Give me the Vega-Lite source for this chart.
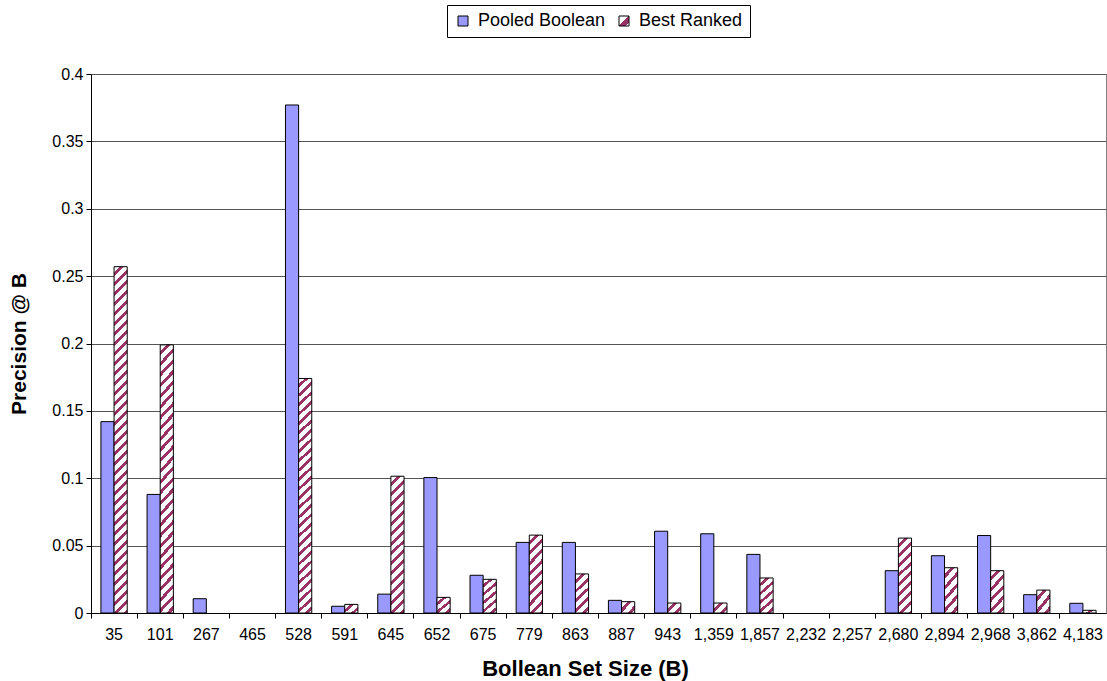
{
  "$schema": "https://vega.github.io/schema/vega-lite/v6.json",
  "width": 1015,
  "height": 539,
  "autosize": "none",
  "padding": {"left": 91, "top": 74, "right": 1, "bottom": 68},
  "background": "white",
  "config": {"font": "Liberation Sans", "view": {"stroke": "#808080"}},
  "data": {
    "values": [
      {"size": "35", "series": "Pooled Boolean", "value": 0.142},
      {"size": "35", "series": "Best Ranked", "value": 0.257},
      {"size": "101", "series": "Pooled Boolean", "value": 0.088},
      {"size": "101", "series": "Best Ranked", "value": 0.199},
      {"size": "267", "series": "Pooled Boolean", "value": 0.0106},
      {"size": "267", "series": "Best Ranked", "value": 0},
      {"size": "465", "series": "Pooled Boolean", "value": 0},
      {"size": "465", "series": "Best Ranked", "value": 0},
      {"size": "528", "series": "Pooled Boolean", "value": 0.377},
      {"size": "528", "series": "Best Ranked", "value": 0.174},
      {"size": "591", "series": "Pooled Boolean", "value": 0.005},
      {"size": "591", "series": "Best Ranked", "value": 0.0064},
      {"size": "645", "series": "Pooled Boolean", "value": 0.014},
      {"size": "645", "series": "Best Ranked", "value": 0.1015},
      {"size": "652", "series": "Pooled Boolean", "value": 0.1005},
      {"size": "652", "series": "Best Ranked", "value": 0.0116},
      {"size": "675", "series": "Pooled Boolean", "value": 0.028},
      {"size": "675", "series": "Best Ranked", "value": 0.025},
      {"size": "779", "series": "Pooled Boolean", "value": 0.0524},
      {"size": "779", "series": "Best Ranked", "value": 0.0578},
      {"size": "863", "series": "Pooled Boolean", "value": 0.0524},
      {"size": "863", "series": "Best Ranked", "value": 0.029},
      {"size": "887", "series": "Pooled Boolean", "value": 0.0094},
      {"size": "887", "series": "Best Ranked", "value": 0.0084},
      {"size": "943", "series": "Pooled Boolean", "value": 0.0607},
      {"size": "943", "series": "Best Ranked", "value": 0.0074},
      {"size": "1,359", "series": "Pooled Boolean", "value": 0.0588},
      {"size": "1,359", "series": "Best Ranked", "value": 0.0074},
      {"size": "1,857", "series": "Pooled Boolean", "value": 0.0435},
      {"size": "1,857", "series": "Best Ranked", "value": 0.026},
      {"size": "2,232", "series": "Pooled Boolean", "value": 0},
      {"size": "2,232", "series": "Best Ranked", "value": 0},
      {"size": "2,257", "series": "Pooled Boolean", "value": 0},
      {"size": "2,257", "series": "Best Ranked", "value": 0},
      {"size": "2,680", "series": "Pooled Boolean", "value": 0.0314},
      {"size": "2,680", "series": "Best Ranked", "value": 0.0556},
      {"size": "2,894", "series": "Pooled Boolean", "value": 0.0425},
      {"size": "2,894", "series": "Best Ranked", "value": 0.0336},
      {"size": "2,968", "series": "Pooled Boolean", "value": 0.0575},
      {"size": "2,968", "series": "Best Ranked", "value": 0.0314},
      {"size": "3,862", "series": "Pooled Boolean", "value": 0.0136},
      {"size": "3,862", "series": "Best Ranked", "value": 0.017},
      {"size": "4,183", "series": "Pooled Boolean", "value": 0.0072},
      {"size": "4,183", "series": "Best Ranked", "value": 0.002}
    ]
  },
  "encoding": {
    "y": {
      "field": "value",
      "type": "quantitative",
      "scale": {"domain": [0, 0.4], "nice": false, "zero": true},
      "axis": {
        "title": "Precision @ B",
        "values": [0, 0.05, 0.1, 0.15, 0.2, 0.25, 0.3, 0.35, 0.4],
        "format": "~g",
        "labelFontSize": 16,
        "labelColor": "black",
        "labelPadding": 3,
        "tickColor": "black",
        "tickSize": 5,
        "domainColor": "black",
        "grid": true,
        "gridColor": "#555555",
        "titleFontSize": 21,
        "titleFontWeight": "bold",
        "titleColor": "black",
        "titlePadding": 22
      }
    },
    "xOffset": {
      "field": "series",
      "type": "nominal",
      "scale": {"domain": ["Pooled Boolean", "Best Ranked"], "paddingInner": 0, "paddingOuter": 0}
    },
    "strokeOpacity": {"condition": {"test": "datum.value === 0", "value": 0}, "value": 1},
    "fill": {
      "field": "series",
      "type": "nominal",
      "scale": {
        "domain": ["Pooled Boolean", "Best Ranked"],
        "range": ["#9999ff", {"expr": "{gradient: 'linear', x1: 0, y1: 0, x2: 1, y2: 1, stops: [{offset: 0, color: '#fff'}, {offset: 0.45, color: '#fff'}, {offset: 0.45, color: '#936'}, {offset: 0.8, color: '#936'}, {offset: 0.8, color: '#fff'}, {offset: 1, color: '#fff'}]}"}]
      },
      "legend": {
        "orient": "none",
        "legendX": 356,
        "legendY": -69,
        "direction": "horizontal",
        "title": null,
        "symbolType": "square",
        "symbolSize": 100,
        "symbolStrokeColor": "black",
        "symbolStrokeWidth": 1,
        "labelFontSize": 18,
        "labelColor": "black",
        "labelOffset": 6,
        "columnPadding": 9,
        "padding": 7,
        "strokeColor": "black",
        "fillColor": "white"
      },
      "condition": [
        {"test": "datum.series === 'Best Ranked' && datum.value >= 0.22", "value": {"gradient": "linear", "x1": 0, "y1": 0, "x2": 0.04362, "y2": 1.1511, "stops": [
          {"offset": 0, "color": "#fff"}, {"offset": 0.015, "color": "#fff"}, {"offset": 0.015, "color": "#936"}, {"offset": 0.025, "color": "#936"},
          {"offset": 0.025, "color": "#fff"}, {"offset": 0.04, "color": "#fff"}, {"offset": 0.04, "color": "#936"}, {"offset": 0.05, "color": "#936"},
          {"offset": 0.05, "color": "#fff"}, {"offset": 0.065, "color": "#fff"}, {"offset": 0.065, "color": "#936"}, {"offset": 0.075, "color": "#936"},
          {"offset": 0.075, "color": "#fff"}, {"offset": 0.09, "color": "#fff"}, {"offset": 0.09, "color": "#936"}, {"offset": 0.1, "color": "#936"},
          {"offset": 0.1, "color": "#fff"}, {"offset": 0.115, "color": "#fff"}, {"offset": 0.115, "color": "#936"}, {"offset": 0.125, "color": "#936"},
          {"offset": 0.125, "color": "#fff"}, {"offset": 0.14, "color": "#fff"}, {"offset": 0.14, "color": "#936"}, {"offset": 0.15, "color": "#936"},
          {"offset": 0.15, "color": "#fff"}, {"offset": 0.165, "color": "#fff"}, {"offset": 0.165, "color": "#936"}, {"offset": 0.175, "color": "#936"},
          {"offset": 0.175, "color": "#fff"}, {"offset": 0.19, "color": "#fff"}, {"offset": 0.19, "color": "#936"}, {"offset": 0.2, "color": "#936"},
          {"offset": 0.2, "color": "#fff"}, {"offset": 0.215, "color": "#fff"}, {"offset": 0.215, "color": "#936"}, {"offset": 0.225, "color": "#936"},
          {"offset": 0.225, "color": "#fff"}, {"offset": 0.24, "color": "#fff"}, {"offset": 0.24, "color": "#936"}, {"offset": 0.25, "color": "#936"},
          {"offset": 0.25, "color": "#fff"}, {"offset": 0.265, "color": "#fff"}, {"offset": 0.265, "color": "#936"}, {"offset": 0.275, "color": "#936"},
          {"offset": 0.275, "color": "#fff"}, {"offset": 0.29, "color": "#fff"}, {"offset": 0.29, "color": "#936"}, {"offset": 0.3, "color": "#936"},
          {"offset": 0.3, "color": "#fff"}, {"offset": 0.315, "color": "#fff"}, {"offset": 0.315, "color": "#936"}, {"offset": 0.325, "color": "#936"},
          {"offset": 0.325, "color": "#fff"}, {"offset": 0.34, "color": "#fff"}, {"offset": 0.34, "color": "#936"}, {"offset": 0.35, "color": "#936"},
          {"offset": 0.35, "color": "#fff"}, {"offset": 0.365, "color": "#fff"}, {"offset": 0.365, "color": "#936"}, {"offset": 0.375, "color": "#936"},
          {"offset": 0.375, "color": "#fff"}, {"offset": 0.39, "color": "#fff"}, {"offset": 0.39, "color": "#936"}, {"offset": 0.4, "color": "#936"},
          {"offset": 0.4, "color": "#fff"}, {"offset": 0.415, "color": "#fff"}, {"offset": 0.415, "color": "#936"}, {"offset": 0.425, "color": "#936"},
          {"offset": 0.425, "color": "#fff"}, {"offset": 0.44, "color": "#fff"}, {"offset": 0.44, "color": "#936"}, {"offset": 0.45, "color": "#936"},
          {"offset": 0.45, "color": "#fff"}, {"offset": 0.465, "color": "#fff"}, {"offset": 0.465, "color": "#936"}, {"offset": 0.475, "color": "#936"},
          {"offset": 0.475, "color": "#fff"}, {"offset": 0.49, "color": "#fff"}, {"offset": 0.49, "color": "#936"}, {"offset": 0.5, "color": "#936"},
          {"offset": 0.5, "color": "#fff"}, {"offset": 0.515, "color": "#fff"}, {"offset": 0.515, "color": "#936"}, {"offset": 0.525, "color": "#936"},
          {"offset": 0.525, "color": "#fff"}, {"offset": 0.54, "color": "#fff"}, {"offset": 0.54, "color": "#936"}, {"offset": 0.55, "color": "#936"},
          {"offset": 0.55, "color": "#fff"}, {"offset": 0.565, "color": "#fff"}, {"offset": 0.565, "color": "#936"}, {"offset": 0.575, "color": "#936"},
          {"offset": 0.575, "color": "#fff"}, {"offset": 0.59, "color": "#fff"}, {"offset": 0.59, "color": "#936"}, {"offset": 0.6, "color": "#936"},
          {"offset": 0.6, "color": "#fff"}, {"offset": 0.615, "color": "#fff"}, {"offset": 0.615, "color": "#936"}, {"offset": 0.625, "color": "#936"},
          {"offset": 0.625, "color": "#fff"}, {"offset": 0.64, "color": "#fff"}, {"offset": 0.64, "color": "#936"}, {"offset": 0.65, "color": "#936"},
          {"offset": 0.65, "color": "#fff"}, {"offset": 0.665, "color": "#fff"}, {"offset": 0.665, "color": "#936"}, {"offset": 0.675, "color": "#936"},
          {"offset": 0.675, "color": "#fff"}, {"offset": 0.69, "color": "#fff"}, {"offset": 0.69, "color": "#936"}, {"offset": 0.7, "color": "#936"},
          {"offset": 0.7, "color": "#fff"}, {"offset": 0.715, "color": "#fff"}, {"offset": 0.715, "color": "#936"}, {"offset": 0.725, "color": "#936"},
          {"offset": 0.725, "color": "#fff"}, {"offset": 0.74, "color": "#fff"}, {"offset": 0.74, "color": "#936"}, {"offset": 0.75, "color": "#936"},
          {"offset": 0.75, "color": "#fff"}, {"offset": 0.765, "color": "#fff"}, {"offset": 0.765, "color": "#936"}, {"offset": 0.775, "color": "#936"},
          {"offset": 0.775, "color": "#fff"}, {"offset": 0.79, "color": "#fff"}, {"offset": 0.79, "color": "#936"}, {"offset": 0.8, "color": "#936"},
          {"offset": 0.8, "color": "#fff"}, {"offset": 0.815, "color": "#fff"}, {"offset": 0.815, "color": "#936"}, {"offset": 0.825, "color": "#936"},
          {"offset": 0.825, "color": "#fff"}, {"offset": 0.84, "color": "#fff"}, {"offset": 0.84, "color": "#936"}, {"offset": 0.85, "color": "#936"},
          {"offset": 0.85, "color": "#fff"}, {"offset": 0.865, "color": "#fff"}, {"offset": 0.865, "color": "#936"}, {"offset": 0.875, "color": "#936"},
          {"offset": 0.875, "color": "#fff"}, {"offset": 0.89, "color": "#fff"}, {"offset": 0.89, "color": "#936"}, {"offset": 0.9, "color": "#936"},
          {"offset": 0.9, "color": "#fff"}, {"offset": 1, "color": "#fff"}]}},
        {"test": "datum.series === 'Best Ranked' && datum.value >= 0.15", "value": {"gradient": "linear", "x1": 0, "y1": 0, "x2": 0.08393, "y2": 1.5956, "stops": [
          {"offset": 0, "color": "#fff"}, {"offset": 0.015, "color": "#fff"}, {"offset": 0.015, "color": "#936"}, {"offset": 0.025, "color": "#936"},
          {"offset": 0.025, "color": "#fff"}, {"offset": 0.04, "color": "#fff"}, {"offset": 0.04, "color": "#936"}, {"offset": 0.05, "color": "#936"},
          {"offset": 0.05, "color": "#fff"}, {"offset": 0.065, "color": "#fff"}, {"offset": 0.065, "color": "#936"}, {"offset": 0.075, "color": "#936"},
          {"offset": 0.075, "color": "#fff"}, {"offset": 0.09, "color": "#fff"}, {"offset": 0.09, "color": "#936"}, {"offset": 0.1, "color": "#936"},
          {"offset": 0.1, "color": "#fff"}, {"offset": 0.115, "color": "#fff"}, {"offset": 0.115, "color": "#936"}, {"offset": 0.125, "color": "#936"},
          {"offset": 0.125, "color": "#fff"}, {"offset": 0.14, "color": "#fff"}, {"offset": 0.14, "color": "#936"}, {"offset": 0.15, "color": "#936"},
          {"offset": 0.15, "color": "#fff"}, {"offset": 0.165, "color": "#fff"}, {"offset": 0.165, "color": "#936"}, {"offset": 0.175, "color": "#936"},
          {"offset": 0.175, "color": "#fff"}, {"offset": 0.19, "color": "#fff"}, {"offset": 0.19, "color": "#936"}, {"offset": 0.2, "color": "#936"},
          {"offset": 0.2, "color": "#fff"}, {"offset": 0.215, "color": "#fff"}, {"offset": 0.215, "color": "#936"}, {"offset": 0.225, "color": "#936"},
          {"offset": 0.225, "color": "#fff"}, {"offset": 0.24, "color": "#fff"}, {"offset": 0.24, "color": "#936"}, {"offset": 0.25, "color": "#936"},
          {"offset": 0.25, "color": "#fff"}, {"offset": 0.265, "color": "#fff"}, {"offset": 0.265, "color": "#936"}, {"offset": 0.275, "color": "#936"},
          {"offset": 0.275, "color": "#fff"}, {"offset": 0.29, "color": "#fff"}, {"offset": 0.29, "color": "#936"}, {"offset": 0.3, "color": "#936"},
          {"offset": 0.3, "color": "#fff"}, {"offset": 0.315, "color": "#fff"}, {"offset": 0.315, "color": "#936"}, {"offset": 0.325, "color": "#936"},
          {"offset": 0.325, "color": "#fff"}, {"offset": 0.34, "color": "#fff"}, {"offset": 0.34, "color": "#936"}, {"offset": 0.35, "color": "#936"},
          {"offset": 0.35, "color": "#fff"}, {"offset": 0.365, "color": "#fff"}, {"offset": 0.365, "color": "#936"}, {"offset": 0.375, "color": "#936"},
          {"offset": 0.375, "color": "#fff"}, {"offset": 0.39, "color": "#fff"}, {"offset": 0.39, "color": "#936"}, {"offset": 0.4, "color": "#936"},
          {"offset": 0.4, "color": "#fff"}, {"offset": 0.415, "color": "#fff"}, {"offset": 0.415, "color": "#936"}, {"offset": 0.425, "color": "#936"},
          {"offset": 0.425, "color": "#fff"}, {"offset": 0.44, "color": "#fff"}, {"offset": 0.44, "color": "#936"}, {"offset": 0.45, "color": "#936"},
          {"offset": 0.45, "color": "#fff"}, {"offset": 0.465, "color": "#fff"}, {"offset": 0.465, "color": "#936"}, {"offset": 0.475, "color": "#936"},
          {"offset": 0.475, "color": "#fff"}, {"offset": 0.49, "color": "#fff"}, {"offset": 0.49, "color": "#936"}, {"offset": 0.5, "color": "#936"},
          {"offset": 0.5, "color": "#fff"}, {"offset": 0.515, "color": "#fff"}, {"offset": 0.515, "color": "#936"}, {"offset": 0.525, "color": "#936"},
          {"offset": 0.525, "color": "#fff"}, {"offset": 0.54, "color": "#fff"}, {"offset": 0.54, "color": "#936"}, {"offset": 0.55, "color": "#936"},
          {"offset": 0.55, "color": "#fff"}, {"offset": 0.565, "color": "#fff"}, {"offset": 0.565, "color": "#936"}, {"offset": 0.575, "color": "#936"},
          {"offset": 0.575, "color": "#fff"}, {"offset": 0.59, "color": "#fff"}, {"offset": 0.59, "color": "#936"}, {"offset": 0.6, "color": "#936"},
          {"offset": 0.6, "color": "#fff"}, {"offset": 0.615, "color": "#fff"}, {"offset": 0.615, "color": "#936"}, {"offset": 0.625, "color": "#936"},
          {"offset": 0.625, "color": "#fff"}, {"offset": 0.64, "color": "#fff"}, {"offset": 0.64, "color": "#936"}, {"offset": 0.65, "color": "#936"},
          {"offset": 0.65, "color": "#fff"}, {"offset": 0.665, "color": "#fff"}, {"offset": 0.665, "color": "#936"}, {"offset": 0.675, "color": "#936"},
          {"offset": 0.675, "color": "#fff"}, {"offset": 1, "color": "#fff"}]}},
        {"test": "datum.series === 'Best Ranked' && datum.value >= 0.08", "value": {"gradient": "linear", "x1": 0, "y1": 0, "x2": 0.2777, "y2": 2.8931, "stops": [
          {"offset": 0, "color": "#fff"}, {"offset": 0.015, "color": "#fff"}, {"offset": 0.015, "color": "#936"}, {"offset": 0.025, "color": "#936"},
          {"offset": 0.025, "color": "#fff"}, {"offset": 0.04, "color": "#fff"}, {"offset": 0.04, "color": "#936"}, {"offset": 0.05, "color": "#936"},
          {"offset": 0.05, "color": "#fff"}, {"offset": 0.065, "color": "#fff"}, {"offset": 0.065, "color": "#936"}, {"offset": 0.075, "color": "#936"},
          {"offset": 0.075, "color": "#fff"}, {"offset": 0.09, "color": "#fff"}, {"offset": 0.09, "color": "#936"}, {"offset": 0.1, "color": "#936"},
          {"offset": 0.1, "color": "#fff"}, {"offset": 0.115, "color": "#fff"}, {"offset": 0.115, "color": "#936"}, {"offset": 0.125, "color": "#936"},
          {"offset": 0.125, "color": "#fff"}, {"offset": 0.14, "color": "#fff"}, {"offset": 0.14, "color": "#936"}, {"offset": 0.15, "color": "#936"},
          {"offset": 0.15, "color": "#fff"}, {"offset": 0.165, "color": "#fff"}, {"offset": 0.165, "color": "#936"}, {"offset": 0.175, "color": "#936"},
          {"offset": 0.175, "color": "#fff"}, {"offset": 0.19, "color": "#fff"}, {"offset": 0.19, "color": "#936"}, {"offset": 0.2, "color": "#936"},
          {"offset": 0.2, "color": "#fff"}, {"offset": 0.215, "color": "#fff"}, {"offset": 0.215, "color": "#936"}, {"offset": 0.225, "color": "#936"},
          {"offset": 0.225, "color": "#fff"}, {"offset": 0.24, "color": "#fff"}, {"offset": 0.24, "color": "#936"}, {"offset": 0.25, "color": "#936"},
          {"offset": 0.25, "color": "#fff"}, {"offset": 0.265, "color": "#fff"}, {"offset": 0.265, "color": "#936"}, {"offset": 0.275, "color": "#936"},
          {"offset": 0.275, "color": "#fff"}, {"offset": 0.29, "color": "#fff"}, {"offset": 0.29, "color": "#936"}, {"offset": 0.3, "color": "#936"},
          {"offset": 0.3, "color": "#fff"}, {"offset": 0.315, "color": "#fff"}, {"offset": 0.315, "color": "#936"}, {"offset": 0.325, "color": "#936"},
          {"offset": 0.325, "color": "#fff"}, {"offset": 0.34, "color": "#fff"}, {"offset": 0.34, "color": "#936"}, {"offset": 0.35, "color": "#936"},
          {"offset": 0.35, "color": "#fff"}, {"offset": 0.365, "color": "#fff"}, {"offset": 0.365, "color": "#936"}, {"offset": 0.375, "color": "#936"},
          {"offset": 0.375, "color": "#fff"}, {"offset": 0.39, "color": "#fff"}, {"offset": 0.39, "color": "#936"}, {"offset": 0.4, "color": "#936"},
          {"offset": 0.4, "color": "#fff"}, {"offset": 1, "color": "#fff"}]}},
        {"test": "datum.series === 'Best Ranked' && datum.value >= 0.045", "value": {"gradient": "linear", "x1": 0, "y1": 0, "x2": 0.8842, "y2": 5.11, "stops": [
          {"offset": 0, "color": "#fff"}, {"offset": 0.015, "color": "#fff"}, {"offset": 0.015, "color": "#936"}, {"offset": 0.025, "color": "#936"},
          {"offset": 0.025, "color": "#fff"}, {"offset": 0.04, "color": "#fff"}, {"offset": 0.04, "color": "#936"}, {"offset": 0.05, "color": "#936"},
          {"offset": 0.05, "color": "#fff"}, {"offset": 0.065, "color": "#fff"}, {"offset": 0.065, "color": "#936"}, {"offset": 0.075, "color": "#936"},
          {"offset": 0.075, "color": "#fff"}, {"offset": 0.09, "color": "#fff"}, {"offset": 0.09, "color": "#936"}, {"offset": 0.1, "color": "#936"},
          {"offset": 0.1, "color": "#fff"}, {"offset": 0.115, "color": "#fff"}, {"offset": 0.115, "color": "#936"}, {"offset": 0.125, "color": "#936"},
          {"offset": 0.125, "color": "#fff"}, {"offset": 0.14, "color": "#fff"}, {"offset": 0.14, "color": "#936"}, {"offset": 0.15, "color": "#936"},
          {"offset": 0.15, "color": "#fff"}, {"offset": 0.165, "color": "#fff"}, {"offset": 0.165, "color": "#936"}, {"offset": 0.175, "color": "#936"},
          {"offset": 0.175, "color": "#fff"}, {"offset": 0.19, "color": "#fff"}, {"offset": 0.19, "color": "#936"}, {"offset": 0.2, "color": "#936"},
          {"offset": 0.2, "color": "#fff"}, {"offset": 0.215, "color": "#fff"}, {"offset": 0.215, "color": "#936"}, {"offset": 0.225, "color": "#936"},
          {"offset": 0.225, "color": "#fff"}, {"offset": 1, "color": "#fff"}]}},
        {"test": "datum.series === 'Best Ranked' && datum.value >= 0.02", "value": {"gradient": "linear", "x1": 0, "y1": 0, "x2": 2.967, "y2": 9.024, "stops": [
          {"offset": 0, "color": "#fff"}, {"offset": 0.015, "color": "#fff"}, {"offset": 0.015, "color": "#936"}, {"offset": 0.025, "color": "#936"},
          {"offset": 0.025, "color": "#fff"}, {"offset": 0.04, "color": "#fff"}, {"offset": 0.04, "color": "#936"}, {"offset": 0.05, "color": "#936"},
          {"offset": 0.05, "color": "#fff"}, {"offset": 0.065, "color": "#fff"}, {"offset": 0.065, "color": "#936"}, {"offset": 0.075, "color": "#936"},
          {"offset": 0.075, "color": "#fff"}, {"offset": 0.09, "color": "#fff"}, {"offset": 0.09, "color": "#936"}, {"offset": 0.1, "color": "#936"},
          {"offset": 0.1, "color": "#fff"}, {"offset": 0.115, "color": "#fff"}, {"offset": 0.115, "color": "#936"}, {"offset": 0.125, "color": "#936"},
          {"offset": 0.125, "color": "#fff"}, {"offset": 0.14, "color": "#fff"}, {"offset": 0.14, "color": "#936"}, {"offset": 0.15, "color": "#936"},
          {"offset": 0.15, "color": "#fff"}, {"offset": 1, "color": "#fff"}]}},
        {"test": "datum.series === 'Best Ranked' && datum.value >= 0.0105", "value": {"gradient": "linear", "x1": 0, "y1": 0, "x2": 9.852, "y2": 14.235, "stops": [
          {"offset": 0, "color": "#fff"}, {"offset": 0.015, "color": "#fff"}, {"offset": 0.015, "color": "#936"}, {"offset": 0.025, "color": "#936"},
          {"offset": 0.025, "color": "#fff"}, {"offset": 0.04, "color": "#fff"}, {"offset": 0.04, "color": "#936"}, {"offset": 0.05, "color": "#936"},
          {"offset": 0.05, "color": "#fff"}, {"offset": 0.065, "color": "#fff"}, {"offset": 0.065, "color": "#936"}, {"offset": 0.075, "color": "#936"},
          {"offset": 0.075, "color": "#fff"}, {"offset": 0.09, "color": "#fff"}, {"offset": 0.09, "color": "#936"}, {"offset": 0.1, "color": "#936"},
          {"offset": 0.1, "color": "#fff"}, {"offset": 1, "color": "#fff"}]}},
        {"test": "datum.series === 'Best Ranked' && datum.value >= 0.005", "value": {"gradient": "linear", "x1": 0, "y1": 0, "x2": 19.27, "y2": 14.657, "stops": [
          {"offset": 0, "color": "#fff"}, {"offset": 0.015, "color": "#fff"}, {"offset": 0.015, "color": "#936"}, {"offset": 0.025, "color": "#936"},
          {"offset": 0.025, "color": "#fff"}, {"offset": 0.04, "color": "#fff"}, {"offset": 0.04, "color": "#936"}, {"offset": 0.05, "color": "#936"},
          {"offset": 0.05, "color": "#fff"}, {"offset": 0.065, "color": "#fff"}, {"offset": 0.065, "color": "#936"}, {"offset": 0.075, "color": "#936"},
          {"offset": 0.075, "color": "#fff"}, {"offset": 1, "color": "#fff"}]}},
        {"test": "datum.series === 'Best Ranked'", "value": {"gradient": "linear", "x1": 0, "y1": 0, "x2": 28.92, "y2": 6.597, "stops": [
          {"offset": 0, "color": "#fff"}, {"offset": 0.015, "color": "#fff"}, {"offset": 0.015, "color": "#936"}, {"offset": 0.025, "color": "#936"},
          {"offset": 0.025, "color": "#fff"}, {"offset": 0.04, "color": "#fff"}, {"offset": 0.04, "color": "#936"}, {"offset": 0.05, "color": "#936"},
          {"offset": 0.05, "color": "#fff"}, {"offset": 1, "color": "#fff"}]}}
      ]
    }
  },
  "layer": [
    {
      "transform": [{"filter": "datum.series === 'Pooled Boolean'"}],
      "mark": {"type": "bar", "stroke": "black", "strokeWidth": 1},
      "encoding": {
        "x": {
          "field": "size",
          "type": "ordinal",
          "sort": null,
          "scale": {"paddingInner": 0.43, "paddingOuter": 0.215},
          "axis": {
            "title": "Bollean Set Size (B)",
            "orient": "bottom",
            "ticks": false,
            "domain": true,
            "domainColor": "black",
            "grid": false,
            "labelAngle": 0,
            "labelFontSize": 16,
            "labelColor": "black",
            "labelPadding": 13,
            "titleFontSize": 22,
            "titleFontWeight": "bold",
            "titleColor": "black",
            "titlePadding": 16,
            "titleX": 494
          }
        }
      }
    },
    {
      "transform": [{"filter": "datum.series === 'Best Ranked'"}],
      "mark": {"type": "bar", "stroke": "black", "strokeWidth": 1},
      "encoding": {
        "x": {
          "field": "size",
          "type": "ordinal",
          "sort": null,
          "scale": {"paddingInner": 0.43, "paddingOuter": 0.215},
          "axis": {
            "title": null,
            "orient": "bottom",
            "labels": false,
            "ticks": true,
            "tickColor": "black",
            "tickSize": 5,
            "bandPosition": -0.377,
            "domain": false,
            "grid": false
          }
        }
      }
    }
  ],
  "resolve": {"axis": {"x": "independent"}}
}
